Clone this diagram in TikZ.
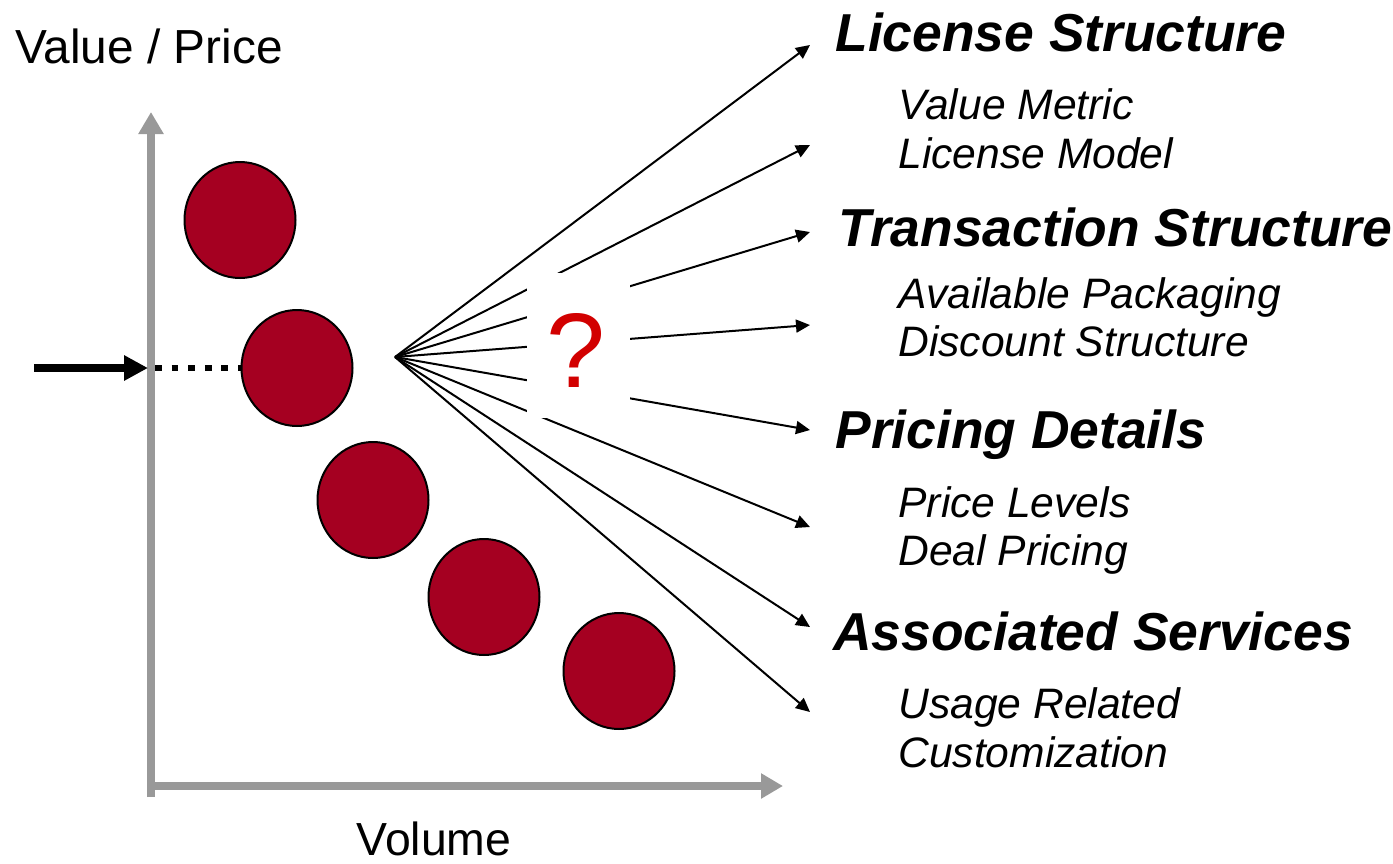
\documentclass[tikz,border=0pt]{standalone}
\usepackage{fontspec}
\setmainfont{Liberation Sans}
\usetikzlibrary{shapes.geometric,arrows.meta,positioning}
\definecolor{dotred}{HTML}{A50021}
\definecolor{axisgray}{HTML}{999999}
\definecolor{qred}{HTML}{D20000}

\begin{document}
\begin{tikzpicture}[x=0.5pt,y=-0.5pt,
    dot/.style={ellipse, draw=black, line width=1pt, fill=dotred, minimum width=55.5pt, minimum height=58pt, inner sep=0pt},
    axis/.style={axisgray, line width=4pt, -{Triangle[length=11pt,width=12pt]}},
    ray/.style={line width=1pt, -{Triangle[length=7pt,width=6.5pt]}},
    head/.style={anchor=base west, inner sep=0pt, font=\fontsize{26.7}{30}\selectfont\bfseries\itshape},
    item/.style={anchor=base west, inner sep=0pt, font=\fontsize{21.3}{25}\selectfont\itshape}]
    \useasboundingbox (0,0) rectangle (1393,863);

    % axes
    \draw[axis] (151,797) -- (151,112);
    \draw[axis] (147,786) -- (783,786);
    \node[anchor=base west, inner sep=0pt, font=\fontsize{23.9}{28}\selectfont] (ylab) at (15,63) {Value / Price};
    \node[anchor=base, inner sep=0pt, font=\fontsize{23.2}{28}\selectfont] (xlab) at (434,855) {Volume};

    % rays from the chosen point
    \coordinate (src) at (395,357);
    \coordinate (t1) at (810,45);
    \coordinate (t2) at (810,145);
    \coordinate (t3) at (810,232);
    \coordinate (t4) at (810,325);
    \coordinate (t5) at (810,430);
    \coordinate (t6) at (810,527);
    \coordinate (t7) at (810,627);
    \coordinate (t8) at (810,712);
    \foreach \i in {1,...,8}
        \draw[ray] (src) -- (t\i);
    \node[fill=white, minimum width=51.5pt, minimum height=72.5pt, inner sep=0pt] (gap) at (578.5,345.5) {};
    \node[anchor=base, inner sep=0pt, text=qred, font=\fontsize{53}{60}\selectfont] (qm) at (576,387) {?};

    % price points
    \node[dot] (c1) at (240,220) {};
    \node[dot] (c2) at (297,368) {};
    \node[dot] (c3) at (373,500) {};
    \node[dot] (c4) at (484,597) {};
    \node[dot] (c5) at (619,671) {};

    % current price
    \coordinate (in) at (34,368);
    \coordinate (ax) at (148,368);
    \draw[line width=4pt, -{Triangle[length=12pt,width=12pt]}] (in) -- (ax);
    \draw[line width=3.4pt, dash pattern=on 3.4pt off 4.9pt] (ax) ++(7,0) -- (c2.west);

    % pricing elements
    \node[head] (lic) at (835,51) {License Structure};
    \node[item] (lic1) at (898,119) {Value Metric};
    \node[item] (lic2) at (898,168) {License Model};
    \node[head] (tra) at (838,246) {Transaction Structure};
    \node[item] (tra1) at (898,308) {Available Packaging};
    \node[item] (tra2) at (898,356) {Discount Structure};
    \node[head] (pri) at (835,448) {Pricing Details};
    \node[item] (pri1) at (898,517) {Price Levels};
    \node[item] (pri2) at (898,565) {Deal Pricing};
    \node[head] (ass) at (833,650) {Associated Services};
    \node[item] (ass1) at (898,718) {Usage Related};
    \node[item] (ass2) at (898,767) {Customization};
\end{tikzpicture}
\end{document}
